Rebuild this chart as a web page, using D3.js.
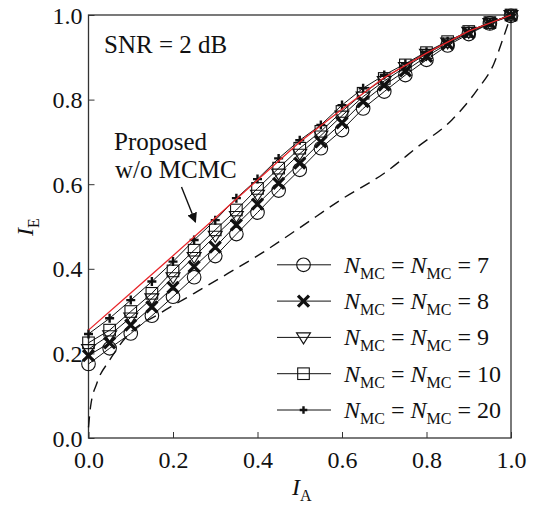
<!DOCTYPE html>
<html>
<head>
<meta charset="utf-8">
<script src="https://cdn.jsdelivr.net/npm/d3@7"></script>
<style>
  html, body { margin: 0; padding: 0; background: #fff; }
  svg { display: block; }
</style>
</head>
<body>
<svg id="chart" width="535" height="507"></svg>
<script>
// ---- data ----
const xPoints = [0, 0.05, 0.1, 0.15, 0.2, 0.25, 0.3, 0.35, 0.4, 0.45, 0.5, 0.55, 0.6, 0.65, 0.7, 0.75, 0.8, 0.85, 0.9, 0.95, 1.0];
const seriesN7  = [0.175, 0.212, 0.247, 0.289, 0.334, 0.380, 0.430, 0.482, 0.533, 0.585, 0.634, 0.685, 0.728, 0.779, 0.819, 0.858, 0.894, 0.928, 0.955, 0.980, 0.998];
const seriesN8  = [0.195, 0.225, 0.267, 0.310, 0.356, 0.405, 0.451, 0.504, 0.553, 0.602, 0.650, 0.700, 0.745, 0.795, 0.834, 0.868, 0.902, 0.932, 0.958, 0.981, 0.999];
const seriesN9  = [0.210, 0.243, 0.285, 0.330, 0.380, 0.428, 0.478, 0.525, 0.575, 0.625, 0.672, 0.715, 0.762, 0.807, 0.844, 0.877, 0.908, 0.935, 0.960, 0.981, 1.000];
const seriesN10 = [0.225, 0.255, 0.299, 0.342, 0.395, 0.444, 0.492, 0.539, 0.590, 0.638, 0.685, 0.725, 0.772, 0.815, 0.850, 0.882, 0.911, 0.937, 0.961, 0.982, 1.000];
const seriesN20 = [0.246, 0.283, 0.326, 0.370, 0.417, 0.468, 0.515, 0.567, 0.612, 0.661, 0.704, 0.740, 0.787, 0.827, 0.858, 0.885, 0.913, 0.938, 0.962, 0.982, 1.000];
const proposedX = [0, 0.1, 0.2, 0.3, 0.4, 0.5, 0.6, 0.7, 0.8, 0.9, 1.0];
const proposedY = [0.255, 0.343, 0.431, 0.520, 0.610, 0.700, 0.777, 0.852, 0.910, 0.962, 1.000];
const decoderX = [0, 0.005, 0.02, 0.05, 0.09, 0.17, 0.25, 0.33, 0.41, 0.5, 0.6, 0.7, 0.78, 0.86, 0.92, 0.96, 0.98, 1.0];
const decoderY = [0.025, 0.075, 0.13, 0.184, 0.24, 0.295, 0.342, 0.389, 0.437, 0.497, 0.565, 0.626, 0.689, 0.752, 0.823, 0.886, 0.941, 1.0];
const legendValues = ["7", "8", "9", "10", "20"];
const markerTypes = ["circle", "cross", "triangle", "square", "plus"];
const tickValues = [0, 0.2, 0.4, 0.6, 0.8, 1.0];

// ---- layout ----
const FONT = "Liberation Serif";
const svg = d3.select("#chart");
const L = 88.5, R = 511, T = 15, B = 438;
const x = d3.scaleLinear().domain([0, 1]).range([L, R]);
const y = d3.scaleLinear().domain([0, 1]).range([B, T]);
const fontSize = 24;
const ink = "#111";

function txt(sel, px, py, size) {
  return sel.append("text").attr("x", px).attr("y", py)
    .style("font-family", FONT).style("font-size", size + "px").attr("fill", ink);
}

// axes
const gx = svg.append("g").attr("transform", `translate(0,${B})`)
  .call(d3.axisBottom(x).tickValues(tickValues).tickFormat(d3.format(".1f")).tickSizeInner(-6).tickSizeOuter(0));
gx.select(".domain").remove();
gx.selectAll(".tick line").attr("stroke", "#333");
gx.selectAll(".tick text").style("font-family", FONT).style("font-size", fontSize + "px")
  .attr("y", 30).attr("dy", 0).attr("fill", ink);

const gy = svg.append("g").attr("transform", `translate(${L},0)`)
  .call(d3.axisLeft(y).tickValues(tickValues).tickFormat(d3.format(".1f")).tickSizeInner(-6).tickSizeOuter(0));
gy.select(".domain").remove();
gy.selectAll(".tick line").attr("stroke", "#333");
gy.selectAll(".tick text").style("font-family", FONT).style("font-size", fontSize + "px")
  .attr("x", -6).attr("dy", "0.34em").attr("fill", ink);

// frame
svg.append("rect").attr("x", L).attr("y", T).attr("width", R - L).attr("height", B - T)
  .attr("fill", "none").attr("stroke", "#333").attr("stroke-width", 1.3);

// axis labels
const xl = txt(svg, 292, 495, fontSize);
xl.append("tspan").style("font-style", "italic").text("I");
xl.append("tspan").style("font-size", "16px").attr("dy", 6).text("A");

const yl = svg.append("text").attr("transform", "translate(33,236) rotate(-90)")
  .style("font-family", FONT).style("font-size", fontSize + "px").attr("fill", ink);
yl.append("tspan").style("font-style", "italic").text("I");
yl.append("tspan").style("font-size", "16px").attr("dy", 6).text("E");

const plot = svg.append("g");

// decoder dashed curve
plot.append("path")
  .datum(decoderX.map((d, i) => [d, decoderY[i]]))
  .attr("d", d3.line().x(d => x(d[0])).y(d => y(d[1])).curve(d3.curveMonotoneX))
  .attr("fill", "none").attr("stroke", ink).attr("stroke-width", 1.4).attr("stroke-dasharray", "11,7");

// series
const allSeries = [seriesN7, seriesN8, seriesN9, seriesN10, seriesN20];
const lineGen = d3.line().x(d => x(d[0])).y(d => y(d[1]));

function drawMarker(g, type, cx, cy, small) {
  if (type === "circle") {
    g.append("circle").attr("cx", cx).attr("cy", cy).attr("r", 6.8)
      .attr("fill", "none").attr("stroke", ink).attr("stroke-width", 1.1);
  } else if (type === "cross") {
    const s = 5.5;
    g.append("path").attr("d", `M${cx - s},${cy - s}L${cx + s},${cy + s}M${cx - s},${cy + s}L${cx + s},${cy - s}`)
      .attr("stroke", ink).attr("stroke-width", 3.2);
  } else if (type === "triangle") {
    const w = 7;
    g.append("path").attr("d", `M${cx - w},${cy - 4.5}L${cx + w},${cy - 4.5}L${cx},${cy + 6.5}Z`)
      .attr("fill", "none").attr("stroke", ink).attr("stroke-width", 1.1);
  } else if (type === "square") {
    const s = 5.8;
    g.append("rect").attr("x", cx - s).attr("y", cy - s).attr("width", 2 * s).attr("height", 2 * s)
      .attr("fill", "none").attr("stroke", ink).attr("stroke-width", 1.1);
  } else if (type === "plus") {
    const s = small ? 3.8 : 4.5;
    g.append("path").attr("d", `M${cx - s},${cy}L${cx + s},${cy}M${cx},${cy - s}L${cx},${cy + s}`)
      .attr("stroke", ink).attr("stroke-width", 2.4);
  }
}

allSeries.forEach((vals, k) => {
  const pts = xPoints.map((d, i) => [d, vals[i]]);
  plot.append("path").datum(pts).attr("d", lineGen)
    .attr("fill", "none").attr("stroke", ink).attr("stroke-width", 1);
  const g = plot.append("g");
  pts.forEach(p => drawMarker(g, markerTypes[k], x(p[0]), y(p[1]), false));
});

// proposed w/o MCMC red line
plot.append("path")
  .datum(proposedX.map((d, i) => [d, proposedY[i]]))
  .attr("d", lineGen)
  .attr("fill", "none").attr("stroke", "#e8262a").attr("stroke-width", 1.3);

// annotations
txt(svg, 104, 53, 25).text("SNR = 2 dB");
txt(svg, 114, 150, 25).text("Proposed");
txt(svg, 115, 178, 25).text("w/o MCMC");

svg.append("defs").append("marker").attr("id", "arrow").attr("viewBox", "0 0 10 10")
  .attr("refX", 9).attr("refY", 5).attr("markerWidth", 10).attr("markerHeight", 10)
  .attr("markerUnits", "userSpaceOnUse").attr("orient", "auto")
  .append("path").attr("d", "M0,0L10,5L0,10Z").attr("fill", ink);
svg.append("line").attr("x1", 181.5).attr("y1", 187).attr("x2", 195.5).attr("y2", 222)
  .attr("stroke", ink).attr("stroke-width", 1.4).attr("marker-end", "url(#arrow)");

// legend
const legY0 = 264.8, legDy = 36.3;
legendValues.forEach((v, k) => {
  const ly = legY0 + k * legDy;
  const g = svg.append("g");
  g.append("line").attr("x1", 277).attr("x2", 331).attr("y1", ly).attr("y2", ly)
    .attr("stroke", ink).attr("stroke-width", 1);
  drawMarker(g, markerTypes[k], 303.5, ly, true);
  const t = txt(g, 344, ly + 8, fontSize);
  t.append("tspan").style("font-style", "italic").text("N");
  t.append("tspan").style("font-size", "16px").attr("dy", 6).text("MC");
  t.append("tspan").attr("dy", -6).text(" = ");
  t.append("tspan").style("font-style", "italic").text("N");
  t.append("tspan").style("font-size", "16px").attr("dy", 6).text("MC");
  t.append("tspan").attr("dy", -6).text(" = " + v);
});
</script>
</body>
</html>
